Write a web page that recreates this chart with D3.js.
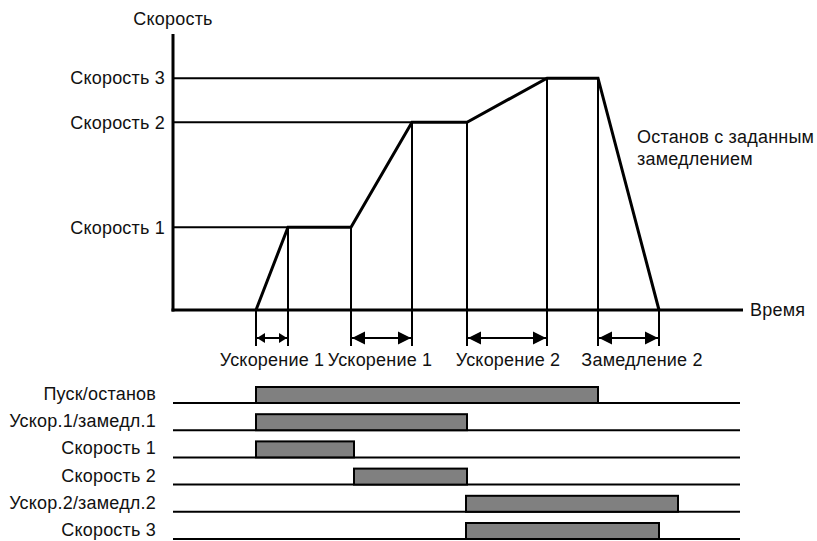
<!DOCTYPE html>
<html>
<head>
<meta charset="utf-8">
<script src="https://cdn.jsdelivr.net/npm/d3@7"></script>
<style>
  body { margin: 0; background: #fff; }
  text { font-family: "Liberation Sans", Arial, sans-serif; fill: #111; font-size: 18px; letter-spacing: 0.2px; }
</style>
</head>
<body>
<svg width="817" height="541"></svg>
<script>
// speed levels (percent of axis height)
var speedNames = ["Скорость 1", "Скорость 2", "Скорость 3"];
var speedValues = [30, 68, 84];

// speed profile: [time, speed]
var profileTimes = [83, 115, 178, 239, 294, 374, 425, 486];
var profileSpeeds = [0, 30, 30, 68, 68, 84, 84, 0];

// intervals under the time axis
var intervalLabels = ["Ускорение 1", "Ускорение 1", "Ускорение 2", "Замедление 2"];
var intervalStart = [83, 178, 294, 425];
var intervalEnd = [115, 239, 374, 486];
var intervalLabelPos = [99, 207, 335, 469];

// timing signals
var signalNames = ["Пуск/останов", "Ускор.1/замедл.1", "Скорость 1", "Скорость 2", "Ускор.2/замедл.2", "Скорость 3"];
var signalOn = [83, 83, 83, 181, 293, 293];
var signalOff = [425, 294, 181, 294, 505, 486];

const svg = d3.select("svg");

const x = d3.scaleLinear().domain([0, 570]).range([173, 743]);
const y = d3.scaleLinear().domain([0, 100]).range([310, 34]);
const rowY = d3.scalePoint().domain(signalNames).range([403, 539]);

const g = svg.append("g");

// speed reference lines (to the point where profile reaches that speed)
const reachT = speedValues.map(v => profileTimes[profileSpeeds.indexOf(v)]);
g.selectAll("line.lvl")
  .data(speedValues)
  .enter().append("line")
    .attr("x1", x(0)).attr("x2", (d, i) => x(reachT[i]))
    .attr("y1", d => y(d)).attr("y2", d => y(d))
    .attr("stroke", "#000").attr("stroke-width", 2);

g.selectAll("text.lvl")
  .data(speedNames)
  .enter().append("text")
    .attr("x", x(0) - 8)
    .attr("y", (d, i) => y(speedValues[i]))
    .attr("dy", "0.35em")
    .attr("text-anchor", "end")
    .text(d => d);

// vertical guide lines
const guideY = 346;
g.selectAll("line.guide")
  .data(profileTimes)
  .enter().append("line")
    .attr("x1", d => x(d)).attr("x2", d => x(d))
    .attr("y1", (d, i) => y(profileSpeeds[i]))
    .attr("y2", guideY)
    .attr("stroke", "#000").attr("stroke-width", 2);

// profile
const line = d3.line().x(d => x(d[0])).y(d => y(d[1]));
g.append("path")
  .datum(profileTimes.map((t, i) => [t, profileSpeeds[i]]))
  .attr("d", line)
  .attr("fill", "none")
  .attr("stroke", "#000")
  .attr("stroke-width", 3)
  .attr("stroke-linejoin", "miter");

// axes
g.append("line")
  .attr("x1", x(0)).attr("x2", x(0))
  .attr("y1", y(100)).attr("y2", y(0) + 1.5)
  .attr("stroke", "#000").attr("stroke-width", 3);
g.append("line")
  .attr("x1", x(0) - 1.5).attr("x2", x(570))
  .attr("y1", y(0)).attr("y2", y(0))
  .attr("stroke", "#000").attr("stroke-width", 3);

g.append("text")
  .attr("x", x(0)).attr("y", 25)
  .attr("text-anchor", "middle")
  .text("Скорость");
g.append("text")
  .attr("x", x(570) + 7).attr("y", y(0))
  .attr("dy", "0.35em")
  .text("Время");

g.append("text")
  .attr("x", 637).attr("y", 143)
  .text("Останов с заданным");
g.append("text")
  .attr("x", 637).attr("y", 165)
  .text("замедлением");

// interval arrows
const arrowY = 338;
function head(xt, dir, len, hw) {
  return "M" + xt + "," + arrowY + "L" + (xt + dir * len) + "," + (arrowY - hw) +
    "L" + (xt + dir * len) + "," + (arrowY + hw) + "Z";
}
intervalStart.forEach((s, i) => {
  const x1 = x(s) + 1, x2 = x(intervalEnd[i]) - 1;
  const len = (x2 - x1) < 40 ? 8 : 13;
  const hw = (x2 - x1) < 40 ? 5 : 6.5;
  g.append("line")
    .attr("x1", x1).attr("x2", x2)
    .attr("y1", arrowY).attr("y2", arrowY)
    .attr("stroke", "#000").attr("stroke-width", 2);
  g.append("path").attr("d", head(x1, 1, len, hw)).attr("fill", "#000");
  g.append("path").attr("d", head(x2, -1, len, hw)).attr("fill", "#000");
});

g.selectAll("text.int")
  .data(intervalLabels)
  .enter().append("text")
    .attr("x", (d, i) => x(intervalLabelPos[i]))
    .attr("y", 366)
    .attr("text-anchor", "middle")
    .text(d => d);

// timing diagram
const barH = 16;
g.selectAll("line.base")
  .data(signalNames)
  .enter().append("line")
    .attr("x1", x(0)).attr("x2", 740)
    .attr("y1", d => rowY(d)).attr("y2", d => rowY(d))
    .attr("stroke", "#000").attr("stroke-width", 2);

g.selectAll("rect.sig")
  .data(signalNames)
  .enter().append("rect")
    .attr("x", (d, i) => x(signalOn[i]))
    .attr("y", d => rowY(d) - barH)
    .attr("width", (d, i) => x(signalOff[i]) - x(signalOn[i]))
    .attr("height", barH)
    .attr("fill", "#808080")
    .attr("stroke", "#000")
    .attr("stroke-width", 2);

g.selectAll("text.sig")
  .data(signalNames)
  .enter().append("text")
    .attr("x", 156)
    .attr("y", d => rowY(d) - 3)
    .attr("text-anchor", "end")
    .text(d => d);
</script>
</body>
</html>
